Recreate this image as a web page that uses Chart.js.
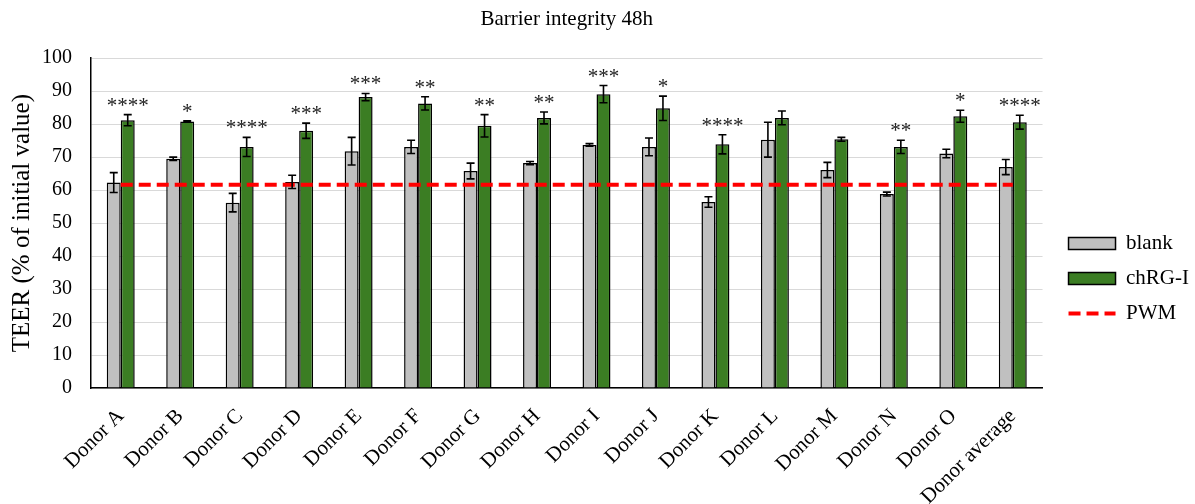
<!DOCTYPE html>
<html>
<head>
<meta charset="utf-8">
<script src="https://cdn.jsdelivr.net/npm/chart.js@4/dist/chart.umd.min.js"></script>
<style>
  html, body { margin: 0; padding: 0; background: #fff; }
  #wrap { width: 1195px; height: 504px; }
</style>
</head>
<body>
<div id="wrap"><canvas id="barChart" width="1195" height="504"></canvas></div>
<script>
const donors = ['Donor A', 'Donor B', 'Donor C', 'Donor D', 'Donor E', 'Donor F', 'Donor G', 'Donor H',
    'Donor I', 'Donor J', 'Donor K', 'Donor L', 'Donor M', 'Donor N', 'Donor O', 'Donor average'];

const blankValues = [62.3, 69.5, 56.2, 62.5, 71.8, 73.1, 65.8, 68.2, 73.7, 73.1, 56.4, 75.3, 66.1, 58.8, 71.1, 67.0];
const blankErrors = [3.0, 0.5, 2.8, 2.0, 4.2, 2.0, 2.4, 0.5, 0.4, 2.7, 1.6, 5.3, 2.3, 0.6, 1.3, 2.3];

const chrgValues = [81.2, 80.8, 73.1, 78.0, 88.2, 86.3, 79.5, 81.9, 89.1, 84.8, 73.9, 81.9, 75.4, 73.1, 82.4, 80.6];
const chrgErrors = [1.7, 0.2, 2.9, 2.3, 1.1, 2.0, 3.4, 1.8, 2.6, 3.7, 2.9, 2.1, 0.6, 2.0, 1.8, 2.1];

const stars = ['****', '*', '****', '***', '***', '**', '**', '**', '***', '*', '****', '', '', '**', '*', '****'];

const pwmLevel = 61.6;
const pwmValues = donors.map(() => pwmLevel);

const serif = "'Liberation Serif', 'Times New Roman', serif";

// 誤差棒と有意差の星印を描くプラグイン
const errorBarPlugin = {
    id: 'errorBars',
    afterDatasetsDraw(chart) {
        const ctx = chart.ctx;
        const yScale = chart.scales.y;
        const errs = [blankErrors, chrgErrors];
        [0, 1].forEach(di => {
            const meta = chart.getDatasetMeta(di);
            const vals = chart.data.datasets[di].data;
            meta.data.forEach((bar, i) => {
                const x = bar.x;
                const yTop = yScale.getPixelForValue(vals[i] + errs[di][i]);
                const yBot = yScale.getPixelForValue(vals[i] - errs[di][i]);
                ctx.save();
                ctx.strokeStyle = '#000';
                ctx.lineWidth = 1.6;
                ctx.beginPath();
                ctx.moveTo(x, yTop); ctx.lineTo(x, yBot);
                ctx.moveTo(x - 4, yTop); ctx.lineTo(x + 4, yTop);
                ctx.moveTo(x - 4, yBot); ctx.lineTo(x + 4, yBot);
                ctx.stroke();
                ctx.restore();

                if (di === 1 && stars[i]) {
                    ctx.save();
                    ctx.fillStyle = '#222';
                    ctx.font = '21px ' + serif;
                    ctx.textAlign = 'center';
                    ctx.textBaseline = 'alphabetic';
                    ctx.fillText(stars[i], x, yTop - 3);
                    ctx.restore();
                }
            });
        });
    }
};

// 凡例を少し右へずらし、プロット領域の右端を合わせる
const legendShiftPlugin = {
    id: 'legendShift',
    beforeLayout(chart) {
        const lg = chart.legend;
        if (lg && !lg._widened) {
            const fit = lg.fit;
            lg.fit = function () {
                fit.call(this);
                this.width += 8;
            };
            lg._widened = true;
        }
    },
    afterLayout(chart) {
        const lg = chart.legend;
        if (lg) {
            lg.left += 12;
            lg.right += 12;
        }
    }
};

const ctx = document.getElementById('barChart').getContext('2d');

new Chart(ctx, {
    type: 'bar',
    data: {
        labels: donors,
        datasets: [
            {
                label: 'blank',
                data: blankValues,
                backgroundColor: '#c0c0c0',
                borderColor: '#000',
                borderWidth: 1.5,
                categoryPercentage: 0.47,
                barPercentage: 1.0,
                order: 2
            },
            {
                label: 'chRG-I',
                data: chrgValues,
                backgroundColor: '#3b7d23',
                borderColor: '#000',
                borderWidth: 1.5,
                categoryPercentage: 0.47,
                barPercentage: 1.0,
                order: 2
            },
            {
                type: 'line',
                label: 'PWM',
                data: pwmValues,
                borderColor: '#ff0000',
                backgroundColor: '#ff0000',
                borderWidth: 4,
                borderDash: [12, 6],
                pointRadius: 0,
                fill: false,
                order: 1
            }
        ]
    },
    options: {
        responsive: false,
        animation: false,
        layout: {
            padding: { left: 4, right: 0, top: 0, bottom: 0 }
        },
        plugins: {
            title: {
                display: true,
                fullSize: false,
                text: 'Barrier integrity 48h',
                color: '#000',
                font: { family: serif, size: 21, weight: 'normal' },
                padding: { top: 7, bottom: 26 }
            },
            legend: {
                position: 'right',
                title: {
                    display: true,
                    text: ' ',
                    font: { size: 10 },
                    padding: { top: 0, bottom: 41 }
                },
                labels: {
                    color: '#000',
                    font: { family: serif, size: 21 },
                    boxWidth: 47,
                    boxHeight: 12,
                    padding: 14,
                    usePointStyle: true,
                    pointStyleWidth: 47,
                    sort: (a, b) => a.datasetIndex - b.datasetIndex,
                    generateLabels(chart) {
                        const items = Chart.defaults.plugins.legend.labels.generateLabels(chart);
                        items.forEach(it => {
                            if (it.datasetIndex === 2) {
                                it.pointStyle = 'line';
                                it.lineWidth = 4;
                                it.lineDash = [12, 6];
                                it.strokeStyle = '#ff0000';
                            } else {
                                it.pointStyle = 'rect';
                                it.lineWidth = 1.5;
                                it.strokeStyle = '#000';
                            }
                        });
                        return items;
                    }
                }
            },
            tooltip: { enabled: false }
        },
        scales: {
            x: {
                grid: { display: false, drawTicks: false },
                border: { display: true, color: '#000', width: 1.5 },
                ticks: {
                    color: '#000',
                    font: { family: serif, size: 21 },
                    maxRotation: 45,
                    minRotation: 45,
                    padding: 16,
                    autoSkip: false
                },
                afterFit(scale) {
                    // 軸ラベル領域の高さと左右の余白を固定する
                    scale.height = 116;
                    scale.paddingLeft = 0;
                    scale.paddingRight = 0;
                }
            },
            y: {
                min: 0,
                max: 100,
                grid: { color: '#d9d9d9', lineWidth: 1, drawTicks: false },
                border: { display: true, color: '#000', width: 1.5 },
                ticks: {
                    stepSize: 10,
                    color: '#000',
                    font: { family: serif, size: 20 },
                    padding: 19
                },
                title: {
                    display: true,
                    text: 'TEER (% of initial value)',
                    color: '#000',
                    font: { family: serif, size: 25 },
                    padding: { top: 3, bottom: 4 }
                },
                afterFit(scale) {
                    scale.width = 87;
                }
            }
        }
    },
    plugins: [errorBarPlugin, legendShiftPlugin]
});
</script>
</body>
</html>
